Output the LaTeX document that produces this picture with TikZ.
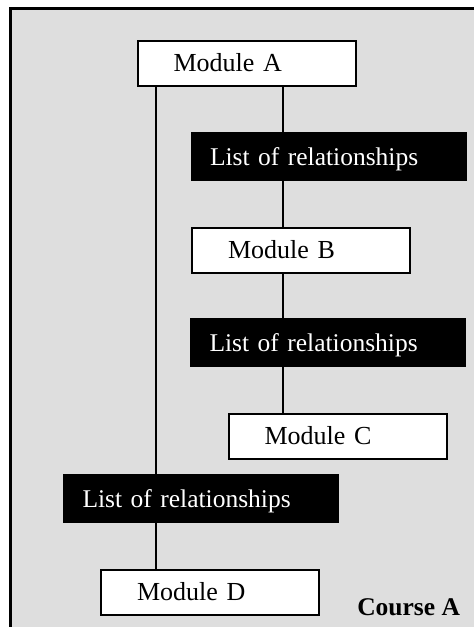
\documentclass[tikz,border=0pt]{standalone}
\usepackage{fontspec}
\setmainfont{Liberation Serif}
\definecolor{panelgray}{RGB}{222,222,222}
\begin{document}
\begin{tikzpicture}[x=1pt,y=-1pt,
  every node/.style={outer sep=0pt, font=\fontsize{26}{30}\selectfont, text height=17pt, text depth=0pt},
  modbox/.style={draw=black, line width=2pt, fill=white, minimum height=45pt, text width=146pt, inner xsep=36pt, align=left},
  relbox/.style={fill=black, text=white, font=\fontsize{25.5}{30}\selectfont, minimum height=49pt, text width=237pt, inner xsep=19.5pt, align=left},
  link/.style={draw=black, line width=2.2pt}]
\useasboundingbox (0,0) rectangle (474,627);
\fill[panelgray] (10.5,8.5) rectangle (474,627);
\draw[line width=3pt] (10.5,627) -- (10.5,8.5) -- (474,8.5);
\node[modbox] (A) at (246.5,63) {Module A};
\node[relbox] (L1) at (328.5,156.5) {List of relationships};
\node[modbox] (B) at (301,250) {Module B};
\node[relbox] (L2) at (328,342.5) {List of relationships};
\node[modbox] (C) at (337.5,436) {Module C};
\node[relbox] (L3) at (201,498.5) {List of relationships};
\node[modbox] (D) at (210,592) {Module D};
\node[anchor=base west, font=\fontsize{25.5}{30}\selectfont\bfseries] (course) at (354,615) {Course A};
\coordinate (cl) at (156,0);
\coordinate (cr) at (283,0);
\draw[link] (A.south -| cl) -- (L3.north -| cl);
\draw[link] (L3.south -| cl) -- (D.north -| cl);
\draw[link] (A.south -| cr) -- (L1.north -| cr);
\draw[link] (L1.south -| cr) -- (B.north -| cr);
\draw[link] (B.south -| cr) -- (L2.north -| cr);
\draw[link] (L2.south -| cr) -- (C.north -| cr);
\end{tikzpicture}
\end{document}
